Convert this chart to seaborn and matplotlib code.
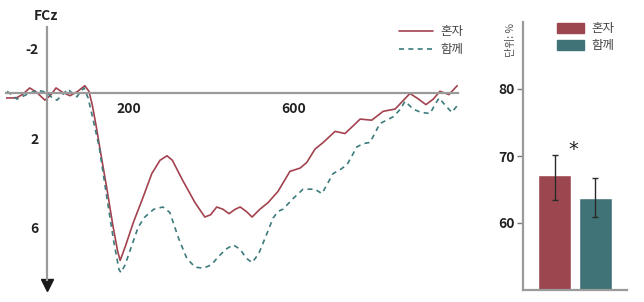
import matplotlib
matplotlib.use("Agg")
import matplotlib.pyplot as plt
import seaborn as sns
import pandas as pd
from matplotlib.lines import Line2D
from matplotlib.patches import Patch

sns.set_style("white")
plt.rcParams['font.family'] = ['Noto Sans CJK KR', 'DejaVu Sans']

# ---------------- data ----------------
alone_t = [-100, -75, -60, -42, -25, -5, 10, 22, 38, 56, 75, 92, 102, 110, 120, 129, 145, 160, 172, 178,
           190, 210, 235, 255, 275, 292, 305, 330, 360, 384, 398, 413, 428, 443, 458, 470, 485, 499, 518,
           538, 562, 591, 616, 632, 652, 672, 701, 725, 745, 762, 790, 818, 847, 865, 883, 900, 922, 940,
           956, 978, 998]
alone_v = [0.2, 0.2, 0.05, -0.25, -0.05, 0.3, 0.05, -0.25, -0.05, 0.1, -0.1, -0.35, -0.1, 0.5, 1.5, 2.5,
           4.2, 5.9, 7.1, 7.5, 6.9, 5.8, 4.6, 3.6, 3.0, 2.8, 3.0, 3.9, 4.9, 5.55, 5.45, 5.1, 5.2, 5.4, 5.2,
           5.1, 5.3, 5.55, 5.2, 4.9, 4.4, 3.5, 3.35, 3.1, 2.5, 2.2, 1.7, 1.8, 1.45, 1.15, 1.2, 0.8, 0.7,
           0.35, 0.0, 0.2, 0.5, 0.25, -0.1, 0.05, -0.35]

together_t = [-97, -73, -50, -24, 0, 10, 24, 38, 51, 62, 73, 82, 90, 100, 110, 127, 145, 162, 175, 180,
              190, 205, 222, 238, 260, 282, 299, 320, 340, 360, 380, 400, 416, 435, 453, 470, 485, 499,
              515, 535, 550, 562, 574, 600, 623, 652, 669, 696, 715, 730, 754, 770, 786, 810, 826, 842,
              860, 871, 891, 910, 932, 944, 954, 970, 985, 1000]
together_v = [-0.1, 0.25, 0.05, -0.15, -0.05, 0.15, 0.3, 0.05, -0.2, 0.0, 0.15, -0.1, -0.25, 0.2, 1.0,
              2.4, 4.6, 6.6, 7.9, 8.05, 7.7, 6.9, 6.0, 5.55, 5.2, 5.1, 5.35, 6.5, 7.4, 7.8, 7.85, 7.7,
              7.35, 7.0, 6.8, 7.0, 7.4, 7.6, 7.2, 6.3, 5.6, 5.3, 5.2, 4.7, 4.3, 4.3, 4.5, 3.6, 3.4, 3.2,
              2.4, 2.25, 2.2, 1.35, 1.2, 1.05, 0.7, 0.35, 0.7, 0.85, 0.9, 0.5, 0.2, 0.55, 0.85, 0.5]

erp_yticks = [-2, 2, 4, 6, 8]
erp_ylabels = ['-2', '2', '', '6', '']
erp_xticks = [200, 400, 600, 800]
erp_xlabels = ['200', '', '600', '']

conditions = ['혼자', '함께']
bar_values = [67.2, 63.7]
err_low = [63.4, 60.9]
err_high = [70.1, 66.7]

RED = '#9c4650'
TEAL = '#3f7377'
LINE_RED = '#a3424f'
LINE_TEAL = '#3d7b7c'
AX = '#9a9a9a'

fig = plt.figure(figsize=(6.44, 3.02), dpi=100)

# ---------------- ERP panel ----------------
ax = fig.add_axes([5.9 / 644, 1 - 293.8 / 302, (458 - 5.9) / 644, (293.8 - 15.6) / 302])
sns.lineplot(x=alone_t, y=alone_v, ax=ax, color=LINE_RED, lw=1.2, sort=False)
sns.lineplot(x=together_t, y=together_v, ax=ax, color=LINE_TEAL, lw=1.2, sort=False,
             dashes=False, linestyle=(0, (3, 2.6)))
ax.set_xlim(-100, 1000)
ax.set_ylim(9, -3.5)
for s in ['top', 'right']:
    ax.spines[s].set_visible(False)
ax.spines['left'].set_position(('data', 0))
ax.spines['bottom'].set_position(('data', 0))
ax.spines['left'].set_bounds(-3.0, 8.4)
ax.spines['left'].set_color(AX)
ax.spines['bottom'].set_color(AX)
ax.spines['left'].set_linewidth(1.6)
ax.spines['bottom'].set_linewidth(1.6)
ax.plot([0], [8.6], marker='v', color='#1a1a1a', ms=8, clip_on=False)
ax.set_yticks(erp_yticks)
ax.set_yticklabels(erp_ylabels, fontweight='bold', fontsize=10, color='#222')
ax.set_xticks(erp_xticks)
ax.set_xticklabels(erp_xlabels, fontweight='bold', fontsize=10, color='#222')
ax.tick_params(axis='y', direction='out', length=4, width=1, color='#777', pad=2)
ax.tick_params(axis='x', direction='out', length=4, width=1, color='#444', pad=2)
ax.patch.set_alpha(0)
fig.text(46 / 644, 1 - 16 / 302, 'FCz', ha='center', va='center', fontweight='bold', fontsize=10, color='#222')

handles = [Line2D([0], [0], color=LINE_RED, lw=1.2),
           Line2D([0], [0], color=LINE_TEAL, lw=1.2, linestyle=(0, (3, 2.6)))]
ax.legend(handles, conditions, loc='upper left', bbox_to_anchor=(388 / 644, 1 - 14 / 302),
          bbox_transform=fig.transFigure, frameon=False, fontsize=9, handlelength=2.7,
          handletextpad=0.6, labelspacing=0.4, labelcolor='#444')

# ---------------- bar panel ----------------
bx = fig.add_axes([523 / 644, 1 - 290 / 302, 104 / 644, 268 / 302])
df = pd.DataFrame({'cond': conditions, 'val': bar_values})
sns.barplot(data=df, x='cond', y='val', hue='cond', palette=[RED, TEAL], ax=bx,
            width=0.815, errorbar=None, legend=False, saturation=1)
yerr = [[v - l for v, l in zip(bar_values, err_low)], [h - v for v, h in zip(bar_values, err_high)]]
bx.errorbar(range(len(conditions)), bar_values, yerr=yerr, fmt='none', ecolor='#2a2a2a',
            elinewidth=1.0, capsize=2.5, capthick=1.0)
bx.set_xlim(-0.78, 1.79)
bx.set_ylim(50, 90)
bx.set_yticks([60, 70, 80])
bx.set_yticklabels(['60', '70', '80'], fontweight='bold', fontsize=10, color='#222')
bx.set_xticks([])
bx.set_xlabel('')
bx.set_ylabel('')
for s in ['top', 'right']:
    bx.spines[s].set_visible(False)
for s in ['left', 'bottom']:
    bx.spines[s].set_color(AX)
    bx.spines[s].set_linewidth(1.6)
bx.tick_params(axis='y', direction='out', length=4, width=1, color='#777', pad=2, left=True)
bx.text(0.46, 70.9, '*', ha='center', va='center', fontsize=14, color='#222', family='DejaVu Sans')
fig.text(511 / 644, 1 - 40 / 302, '단위: %', rotation=90, ha='center', va='center', fontsize=7.5, color='#555')
bhandles = [Patch(color=RED), Patch(color=TEAL)]
bx.legend(bhandles, conditions, loc='upper left', bbox_to_anchor=(546 / 644, 1 - 11 / 302),
          bbox_transform=fig.transFigure, frameon=False, fontsize=9, handlelength=2.1,
          handleheight=0.9, handletextpad=0.6, labelspacing=0.3, labelcolor='#444')

fig.savefig('out.png', dpi=100)
